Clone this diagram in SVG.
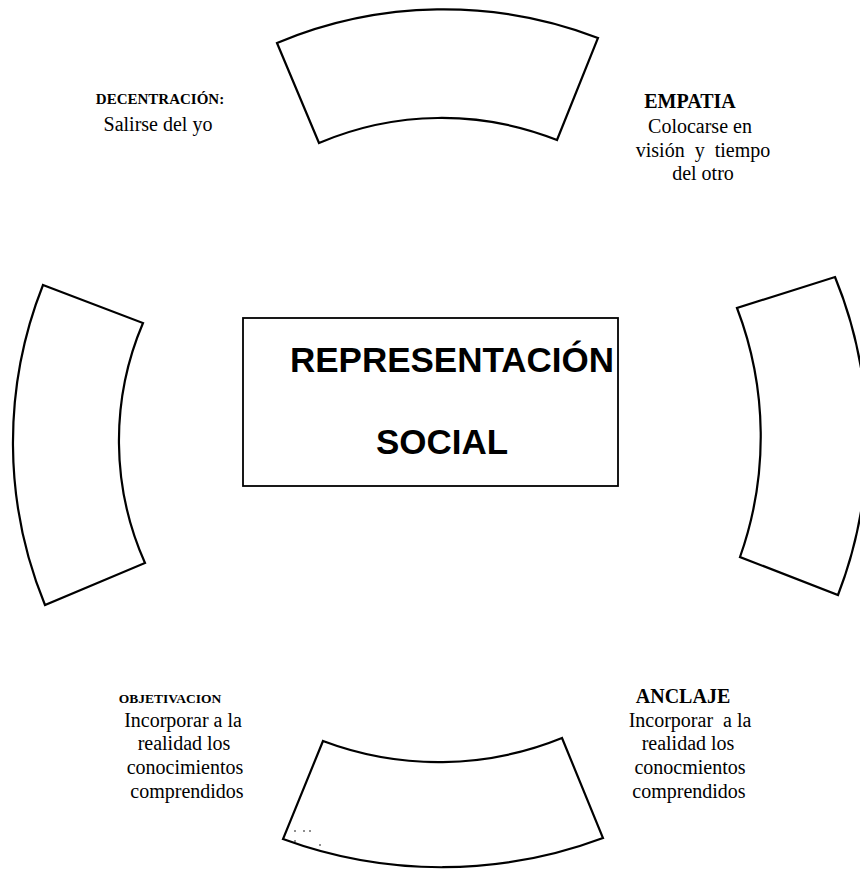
<svg xmlns="http://www.w3.org/2000/svg" width="860" height="869" viewBox="0 0 860 869">
<style>
.seg{fill:#fff;stroke:#000;stroke-width:2.2;stroke-linejoin:miter}
.box{fill:#fff;stroke:#000;stroke-width:1.8}
.t{font-family:"Liberation Serif","Times New Roman",serif;fill:#000;text-anchor:middle;white-space:pre}
.lb{font-weight:bold}
.big{font-family:"Liberation Sans",Arial,sans-serif;font-weight:bold;fill:#000;text-anchor:middle;font-size:35px}
</style>
<rect width="860" height="869" fill="#fff"/>
<g id="seg-top"><path class="seg" d="M277,43 A430,430 0 0 1 598,38 L557,140 A313,313 0 0 0 319,143 Z"/></g>
<g id="seg-left"><path class="seg" d="M43,285 L143,323 A300,300 0 0 0 145,563 L45,605 A428,428 0 0 1 43,285 Z"/></g>
<g id="seg-right"><path class="seg" d="M737,308 A360,360 0 0 1 740,557 L838,595 A430,430 0 0 0 835,277 Z"/></g>
<g id="seg-bottom"><path class="seg" d="M323,741 A328,328 0 0 0 562,738 L603,838 A460,460 0 0 1 283,839 Z"/>
<circle cx="295" cy="831" r="0.8"/><circle cx="304" cy="831" r="0.8"/><circle cx="310" cy="831" r="0.8"/><circle cx="295" cy="841" r="0.8"/><circle cx="320" cy="845" r="0.8"/></g>
<g id="center"><rect class="box" x="243" y="318" width="375" height="168"/>
<text class="big" x="452" y="372">REPRESENTACIÓN</text>
<text class="big" x="442" y="454">SOCIAL</text></g>
<g id="decentracion">
<text class="t lb" x="160" y="104" font-size="15">DECENTRACIÓN:</text>
<text class="t" x="158" y="131" font-size="20">Salirse del yo</text></g>
<g id="empatia">
<text class="t lb" x="690" y="108" font-size="20">EMPATIA</text>
<text class="t" x="700" y="133" font-size="20">Colocarse en</text>
<text class="t" x="703" y="157" font-size="20">visión  y  tiempo</text>
<text class="t" x="703" y="180" font-size="20">del otro</text></g>
<g id="objetivacion">
<text class="t lb" x="170" y="703" font-size="13.5">OBJETIVACION</text>
<text class="t" x="183" y="727" font-size="20">Incorporar a la</text>
<text class="t" x="184" y="750" font-size="20">realidad los</text>
<text class="t" x="185" y="774" font-size="20">conocimientos</text>
<text class="t" x="187" y="798" font-size="20">comprendidos</text></g>
<g id="anclaje">
<text class="t lb" x="683" y="703" font-size="20">ANCLAJE</text>
<text class="t" x="690" y="727" font-size="20">Incorporar  a la</text>
<text class="t" x="688" y="750" font-size="20">realidad los</text>
<text class="t" x="690" y="774" font-size="20">conocmientos</text>
<text class="t" x="689" y="798" font-size="20">comprendidos</text></g>
<g id="connectors"></g>
</svg>
